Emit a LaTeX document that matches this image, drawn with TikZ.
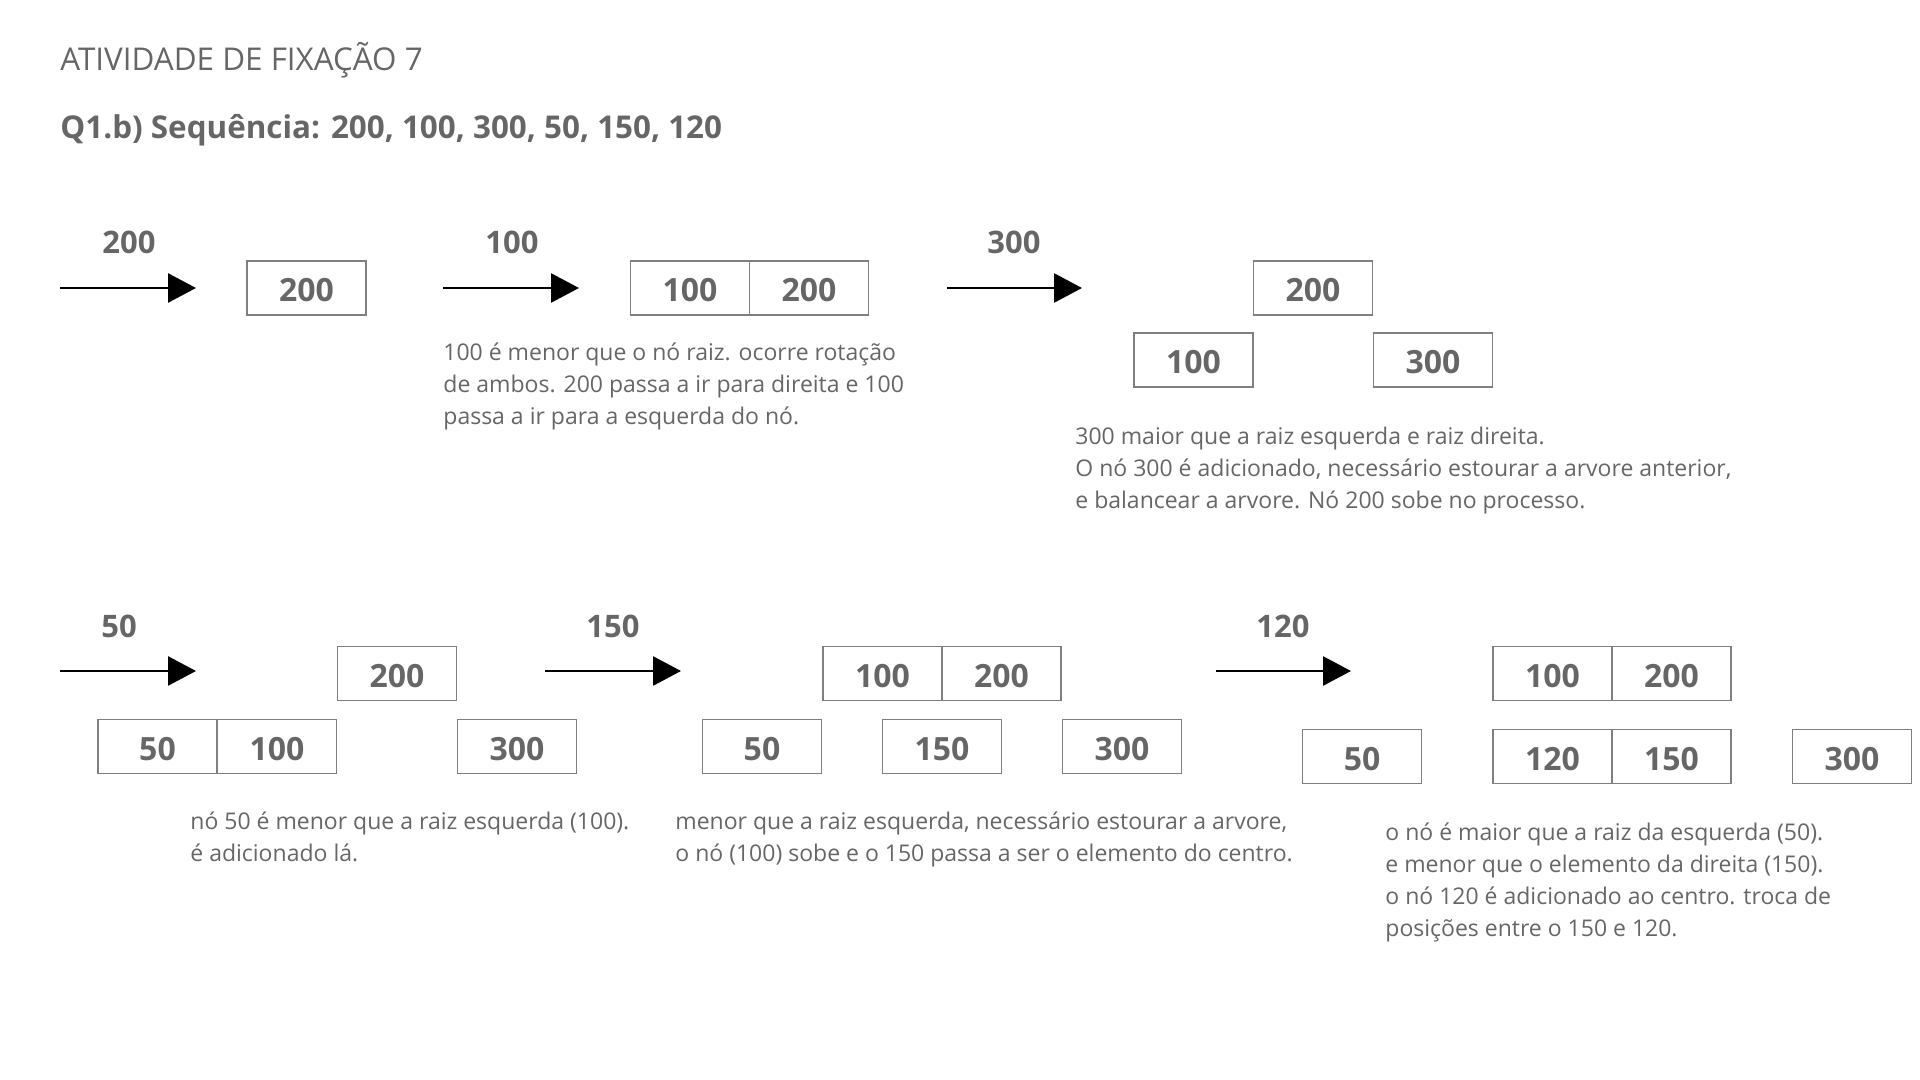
\documentclass[tikz,border=0pt]{standalone}
\usepackage{fontspec}
\setmainfont{Open Sans}
\usetikzlibrary{arrows.meta}
\definecolor{cinza}{HTML}{666666}
\definecolor{borda}{HTML}{7F7F7F}

\tikzset{
  caixa/.style={draw=borda, line width=0.7pt, rectangle, minimum width=59.5pt, minimum height=27pt, inner sep=0pt, text height=13.5pt, text depth=0pt, text=cinza, font=\fontsize{16}{19}\selectfont\bfseries},
  rotulo/.style={text=cinza, inner sep=0pt, font=\fontsize{15.5}{18}\selectfont\bfseries},
  nota/.style={text=cinza, inner sep=0pt, anchor=north west, align=left, font=\fontsize{11.5}{16}\selectfont},
  seta/.style={line width=1.4pt, -{Triangle[length=14pt, width=14.5pt]}},
}

\begin{document}
\begin{tikzpicture}[x=0.5pt, y=-0.5pt]
\useasboundingbox (0,0) rectangle (1920,1080);

\node[text=cinza, anchor=west, inner sep=0pt, font=\fontsize{15.7}{19}\selectfont](titulo) at (60,60) {ATIVIDADE DE FIXAÇÃO 7};
\node[text=cinza, anchor=west, inner sep=0pt, font=\fontsize{15.7}{19}\selectfont\bfseries](questao) at (60,130) {Q1.b) Sequência: 200, 100, 300, 50, 150, 120};

% passo 1: 200
\node[rotulo](L1) at (129,242) {200};
\coordinate (S1a) at (60,288);
\coordinate (S1b) at (196,288);
\draw[seta](S1a) to (S1b);
\node[caixa](A1) at (306.5,288) {200};

% passo 2: 100
\node[rotulo](L2) at (512,242) {100};
\coordinate (S2a) at (443,288);
\coordinate (S2b) at (579,288);
\draw[seta](S2a) to (S2b);
\node[caixa](A2a) at (690,288) {100};
\node[caixa](A2b) at (809,288) {200};
\node[nota](T2) at (443,342) {100 é menor que o nó raiz. ocorre rotação\\de ambos. 200 passa a ir para direita e 100\\passa a ir para a esquerda do nó.};

% passo 3: 300
\node[rotulo](L3) at (1014,242) {300};
\coordinate (S3a) at (947,288);
\coordinate (S3b) at (1082,288);
\draw[seta](S3a) to (S3b);
\node[caixa](A3r) at (1313,288) {200};
\node[caixa](A3e) at (1193.5,360) {100};
\node[caixa](A3d) at (1433,360) {300};
\node[nota](T3) at (1075,427) {300 maior que a raiz esquerda e raiz direita.\\O nó 300 é adicionado, necessário estourar a arvore anterior,\\e balancear a arvore. Nó 200 sobe no processo.};

% passo 4: 50
\node[rotulo](L4) at (119,626) {50};
\coordinate (S4a) at (60,671);
\coordinate (S4b) at (196,671);
\draw[seta](S4a) to (S4b);
\node[caixa](A4r) at (397,673.5) {200};
\node[caixa](A4a) at (157.5,746.5) {50};
\node[caixa](A4b) at (277,746.5) {100};
\node[caixa](A4d) at (517,746.5) {300};
\node[nota](T4) at (190,811) {nó 50 é menor que a raiz esquerda (100).\\é adicionado lá.};

% passo 5: 150
\node[rotulo](L5) at (613,626) {150};
\coordinate (S5a) at (545,671);
\coordinate (S5b) at (681,671);
\draw[seta](S5a) to (S5b);
\node[caixa](A5a) at (882.5,673.5) {100};
\node[caixa](A5b) at (1001.5,673.5) {200};
\node[caixa](A5e) at (762,746.5) {50};
\node[caixa](A5c) at (942,746.5) {150};
\node[caixa](A5d) at (1122,746.5) {300};
\node[nota](T5) at (675,811) {menor que a raiz esquerda, necessário estourar a arvore,\\o nó (100) sobe e o 150 passa a ser o elemento do centro.};

% passo 6: 120
\node[rotulo](L6) at (1283,626) {120};
\coordinate (S6a) at (1216,671);
\coordinate (S6b) at (1351,671);
\draw[seta](S6a) to (S6b);
\node[caixa](A6a) at (1552.5,673.5) {100};
\node[caixa](A6b) at (1671.5,673.5) {200};
\node[caixa](A6e) at (1362,756.5) {50};
\node[caixa](A6c) at (1552.5,756.5) {120};
\node[caixa](A6f) at (1671.5,756.5) {150};
\node[caixa](A6d) at (1852,756.5) {300};
\node[nota](T6) at (1385,822) {o nó é maior que a raiz da esquerda (50).\\e menor que o elemento da direita (150).\\o nó 120 é adicionado ao centro. troca de\\posições entre o 150 e 120.};
\end{tikzpicture}
\end{document}
